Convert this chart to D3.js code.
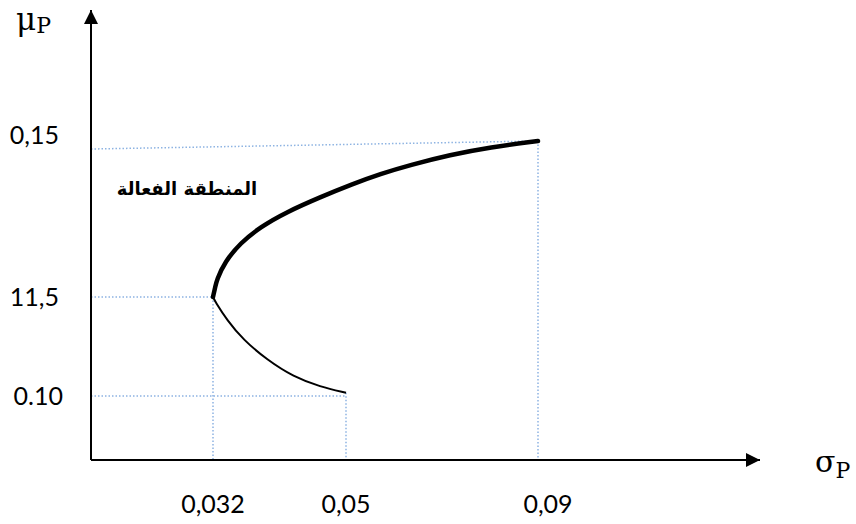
<!DOCTYPE html>
<html lang="ar">
<head>
    <meta charset="UTF-8">
    <title>Efficient frontier</title>
    <style>
        body { margin: 0; background: #fff; }
        #graphArea { width: 856px; height: 524px; }
    </style>
</head>
<body>
    <div id="graphArea"></div>
    <script src="https://d3js.org/d3.v7.min.js"></script>
    <script>
        // tick values and their labels as written on the figure
        const xTickValues = [0.032, 0.05, 0.09];
        const xTickLabels = ["0,032", "0,05", "0,09"];
        const yTickValues = [0.15, 0.115, 0.10];
        const yTickLabels = ["0,15", "11,5", "0.10"];

        // upper (efficient) branch of the frontier
        const upperSigma = [0.032, 0.0323, 0.0325, 0.0336, 0.0357, 0.0384, 0.042, 0.0465, 0.0515, 0.0571, 0.0633, 0.0717, 0.08, 0.09];
        const upperMu = [0.115, 0.1172, 0.1188, 0.1229, 0.1271, 0.1307, 0.1341, 0.1374, 0.1404, 0.1426, 0.1446, 0.1469, 0.1486, 0.15];

        // lower (inefficient) branch
        const lowerSigma = [0.032, 0.0323, 0.0339, 0.0361, 0.0393, 0.0429, 0.0465, 0.05];
        const lowerMu = [0.115, 0.1143, 0.1115, 0.1085, 0.1055, 0.1029, 0.1014, 0.1005];

        // dotted guide lines: point on curve, and where the horizontal meets the y axis
        const guideSigma = [0.09, 0.032, 0.05];
        const guideMuTop = [0.15, 0.115, 0.1005];
        const guideMuEnd = [0.15, 0.115, 0.10];
        const guideMuAxis = [0.1482, 0.115, 0.10];

        const regionLabel = "المنطقة الفعالة";

        const width = 856;
        const height = 524;

        // the figure is a sketch: the axes are not evenly spaced, so use piecewise scales
        const x = d3.scaleLinear()
            .domain([0, 0.032, 0.05, 0.09, 0.136])
            .range([91, 213, 346, 538, 760]);

        const y = d3.scaleLinear()
            .domain([0.09, 0.10, 0.115, 0.15, 0.179])
            .range([460, 396, 297, 141, 10]);

        const xMin = 0, xMax = 0.136;
        const yMin = 0.09, yMax = 0.179;

        const svg = d3.select("#graphArea")
            .append("svg")
            .attr("width", width)
            .attr("height", height);

        const defs = svg.append("defs");
        defs.append("marker")
            .attr("id", "arrow")
            .attr("viewBox", "0 0 10 10")
            .attr("refX", 10)
            .attr("refY", 5)
            .attr("markerWidth", 15)
            .attr("markerHeight", 14)
            .attr("markerUnits", "userSpaceOnUse")
            .attr("orient", "auto")
            .append("path")
            .attr("d", "M0,0L10,5L0,10Z")
            .attr("fill", "#000");

        // guides
        const guideColor = "#8db3e2";
        const guides = svg.append("g")
            .attr("fill", "none")
            .attr("stroke", guideColor)
            .attr("stroke-width", 1.5)
            .attr("stroke-dasharray", "1.5 2");

        guideSigma.forEach((s, i) => {
            guides.append("line")
                .attr("x1", x(xMin)).attr("y1", y(guideMuAxis[i]))
                .attr("x2", x(s)).attr("y2", y(guideMuEnd[i]));
            guides.append("line")
                .attr("x1", x(s)).attr("y1", y(guideMuTop[i]))
                .attr("x2", x(s)).attr("y2", y(yMin));
        });

        // axes with arrows
        svg.append("line")
            .attr("x1", x(xMin)).attr("y1", y(yMin))
            .attr("x2", x(xMin)).attr("y2", y(yMax))
            .attr("stroke", "#000")
            .attr("stroke-width", 2)
            .attr("marker-end", "url(#arrow)");

        svg.append("line")
            .attr("x1", x(xMin)).attr("y1", y(yMin))
            .attr("x2", x(xMax)).attr("y2", y(yMin))
            .attr("stroke", "#000")
            .attr("stroke-width", 2)
            .attr("marker-end", "url(#arrow)");

        // frontier
        const line = d3.line()
            .x(d => x(d[0]))
            .y(d => y(d[1]))
            .curve(d3.curveBasis);

        svg.append("path")
            .datum(lowerSigma.map((s, i) => [s, lowerMu[i]]))
            .attr("fill", "none")
            .attr("stroke", "#000")
            .attr("stroke-width", 2)
            .attr("d", line);

        svg.append("path")
            .datum(upperSigma.map((s, i) => [s, upperMu[i]]))
            .attr("fill", "none")
            .attr("stroke", "#000")
            .attr("stroke-width", 4.5)
            .attr("stroke-linecap", "round")
            .attr("d", line);

        // tick labels
        svg.append("g")
            .selectAll("text")
            .data(xTickValues)
            .join("text")
            .attr("x", (d, i) => x(d) + (i === 2 ? 10 : 0))
            .attr("y", y(yMin) + 53)
            .attr("text-anchor", "middle")
            .attr("font-family", "Lato, sans-serif")
            .attr("font-size", 25)
            .text((d, i) => xTickLabels[i]);

        svg.append("g")
            .selectAll("text")
            .data(yTickValues)
            .join("text")
            .attr("x", (d, i) => x(xMin) - (i === 2 ? 28 : 32))
            .attr("y", d => y(d))
            .attr("dy", (d, i) => i === 0 ? "0.1em" : "0.35em")
            .attr("text-anchor", "end")
            .attr("font-family", "Lato, sans-serif")
            .attr("font-size", 25)
            .text((d, i) => yTickLabels[i]);

        // axis titles
        const muTitle = svg.append("text")
            .attr("x", 16)
            .attr("y", 30)
            .attr("font-family", "'DejaVu Serif', serif")
            .attr("font-size", 31);
        muTitle.append("tspan").text("μ");
        muTitle.append("tspan").attr("font-size", 22).attr("dy", 3).text("P");

        const sigmaTitle = svg.append("text")
            .attr("x", 815)
            .attr("y", 472)
            .attr("font-family", "'DejaVu Serif', serif")
            .attr("font-size", 30);
        sigmaTitle.append("tspan").text("σ");
        sigmaTitle.append("tspan").attr("font-size", 22).attr("dy", 6).text("P");

        // efficient region label
        svg.append("text")
            .attr("x", 187)
            .attr("y", 195)
            .attr("text-anchor", "middle")
            .attr("direction", "rtl")
            .attr("font-family", "'DejaVu Sans', sans-serif")
            .attr("font-weight", "bold")
            .attr("font-size", 18)
            .text(regionLabel);
    </script>
</body>
</html>
